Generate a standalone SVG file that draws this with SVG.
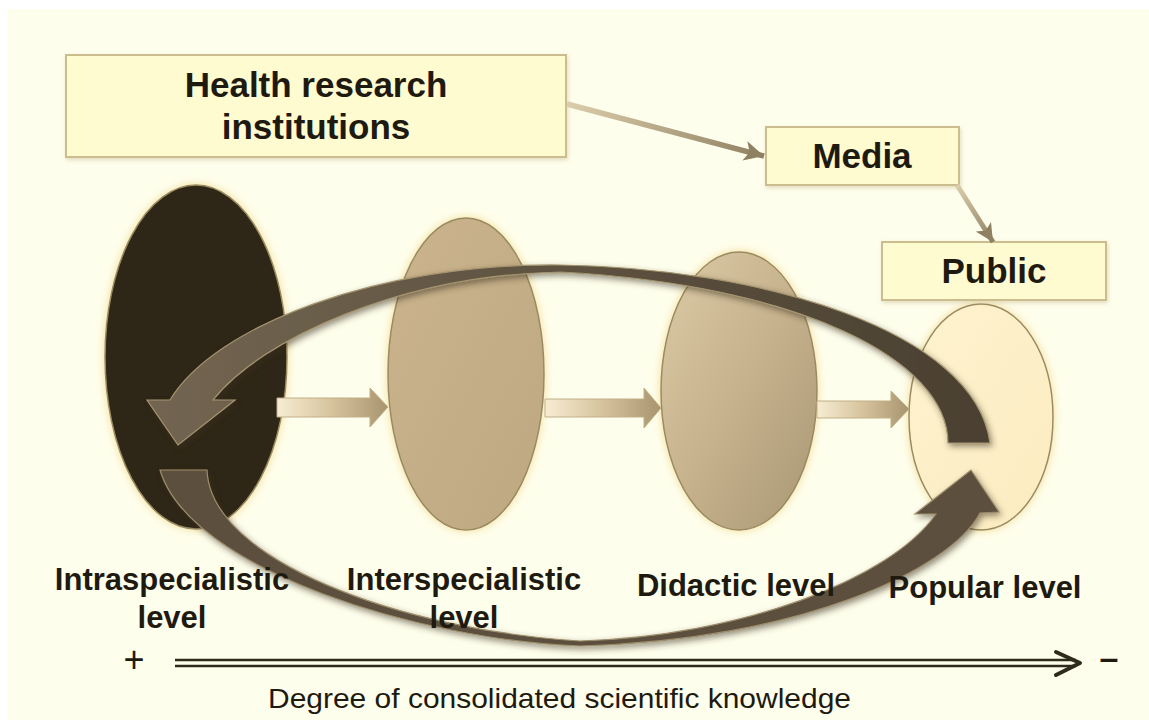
<svg xmlns="http://www.w3.org/2000/svg" width="1149" height="720" viewBox="0 0 1149 720">
  <style>
    .box { fill: #fefbd0; stroke: #cbbd8e; stroke-width: 2; }
    .lbl { font-family: "Liberation Sans", Arial, sans-serif; font-weight: bold; fill: #1f1a10; text-anchor: middle; }
    .axis { stroke: #2e2b1d; stroke-width: 2.5; fill: none; }
    .lvl { stroke: #9a8a62; stroke-width: 1.5; }
    .step { stroke: #c2ae86; stroke-width: 1; }
    .sign { font-family: "Liberation Sans", Arial, sans-serif; fill: #1f1a10; text-anchor: middle; }
  </style>
  <defs>
    <filter id="glow" x="-20%" y="-20%" width="140%" height="140%">
      <feGaussianBlur in="SourceAlpha" stdDeviation="4" result="b"/>
      <feFlood flood-color="#f1d98c" flood-opacity="0.9"/>
      <feComposite in2="b" operator="in" result="g"/>
      <feMerge><feMergeNode in="g"/><feMergeNode in="SourceGraphic"/></feMerge>
    </filter>
    <filter id="shadow" x="-10%" y="-10%" width="120%" height="130%">
      <feDropShadow dx="2" dy="3" stdDeviation="3" flood-color="#3b311f" flood-opacity="0.55"/>
    </filter>
    <filter id="boxShadow" x="-5%" y="-10%" width="110%" height="130%">
      <feDropShadow dx="1" dy="2" stdDeviation="2" flood-color="#b9a97a" flood-opacity="0.4"/>
    </filter>
    <linearGradient id="g2" x1="0" y1="0" x2="1" y2="1">
      <stop offset="0" stop-color="#cbb48d"/>
      <stop offset="1" stop-color="#bda882"/>
    </linearGradient>
    <linearGradient id="g3" x1="0" y1="0" x2="1" y2="1">
      <stop offset="0" stop-color="#dccaa6"/>
      <stop offset="0.5" stop-color="#c6b28d"/>
      <stop offset="1" stop-color="#a99673"/>
    </linearGradient>
    <linearGradient id="g4" x1="0" y1="0" x2="1" y2="1">
      <stop offset="0" stop-color="#fef3cf"/>
      <stop offset="1" stop-color="#fbebc0"/>
    </linearGradient>
    <linearGradient id="stepGrad" x1="0" y1="0" x2="1" y2="0">
      <stop offset="0" stop-color="#f7ecd2"/>
      <stop offset="0.5" stop-color="#d6c39d"/>
      <stop offset="1" stop-color="#a8956f"/>
    </linearGradient>
    <linearGradient id="upperGrad" x1="0" y1="0" x2="1" y2="0">
      <stop offset="0" stop-color="#726551"/>
      <stop offset="0.5" stop-color="#5e5240"/>
      <stop offset="1" stop-color="#4a4031"/>
    </linearGradient>
    <linearGradient id="c1" gradientUnits="userSpaceOnUse" x1="566" y1="103" x2="764" y2="156">
      <stop offset="0" stop-color="#dccdab"/>
      <stop offset="1" stop-color="#8e8061"/>
    </linearGradient>
    <linearGradient id="c2" gradientUnits="userSpaceOnUse" x1="957" y1="185" x2="993" y2="242">
      <stop offset="0" stop-color="#dccdab"/>
      <stop offset="1" stop-color="#8e8061"/>
    </linearGradient>
    <marker id="head" viewBox="0 0 10 10" refX="10" refY="5" markerWidth="3.6" markerHeight="3.6" orient="auto">
      <path d="M0,0 L10,5 L0,10 L2.5,5 Z" fill="#8e8061"/>
    </marker>
  </defs>

  <!-- page -->
  <rect x="0" y="0" width="1149" height="720" fill="#ffffff"/>
  <rect x="8" y="9" width="1141" height="711" fill="#fefeec"/>

  <!-- knowledge levels -->
  <g id="level-intraspecialistic">
    <ellipse class="lvl" cx="196" cy="357" rx="91" ry="172" fill="#2d2719" filter="url(#glow)"/>
  </g>
  <g id="level-interspecialistic">
    <ellipse class="lvl" cx="466" cy="374" rx="78" ry="156" fill="url(#g2)" filter="url(#glow)"/>
  </g>
  <g id="level-didactic">
    <ellipse class="lvl" cx="739" cy="391" rx="78" ry="139" fill="url(#g3)" filter="url(#glow)"/>
  </g>
  <g id="level-popular">
    <ellipse class="lvl" cx="981" cy="417" rx="72" ry="113" fill="url(#g4)" filter="url(#glow)"/>
  </g>

  <!-- actor boxes -->
  <g id="health-research-institutions">
    <rect class="box" x="66" y="55" width="500" height="102" filter="url(#boxShadow)"/>
    <text class="lbl" x="316" y="97" font-size="35">Health research</text>
    <text class="lbl" x="316" y="139" font-size="35">institutions</text>
  </g>
  <g id="media">
    <rect class="box" x="766" y="127" width="193" height="58" filter="url(#boxShadow)"/>
    <text class="lbl" x="862" y="168" font-size="35">Media</text>
  </g>
  <g id="public">
    <rect class="box" x="882" y="242" width="224" height="58" filter="url(#boxShadow)"/>
    <text class="lbl" x="994" y="283" font-size="35">Public</text>
  </g>

  <g id="connectors">
    <!-- actor flow -->
    <line x1="567" y1="104" x2="764" y2="156" stroke="url(#c1)" stroke-width="5.5" marker-end="url(#head)"/>
    <line x1="957" y1="185" x2="993" y2="242" stroke="url(#c2)" stroke-width="5" marker-end="url(#head)"/>

    <!-- steps between levels -->
    <path class="step" fill="url(#stepGrad)" d="M277,398 L370,398 L370,388 L388,407 L370,427 L370,417 L277,417 Z"/>
    <path class="step" fill="url(#stepGrad)" d="M545,399 L644,399 L644,388 L661,408 L644,428 L644,417 L545,417 Z"/>
    <path class="step" fill="url(#stepGrad)" d="M817,401 L891,401 L891,391 L909,409 L891,428 L891,418 L817,418 Z"/>

    <!-- feedback loop, popular back to intraspecialistic -->
    <path fill="url(#upperGrad)" stroke="#a4946f" stroke-width="1.2" filter="url(#shadow)"
          d="M990,443 C975,330 760,268 560,265 C380,263 215,325 170,400 L147,400 L178,445 L235,400 L213,400 C260,340 400,275 560,272 C800,285 948,360 948,443 Z"/>
    <!-- loop from intraspecialistic to popular -->
    <path fill="#5b503e" stroke="#9d8d6b" stroke-width="1.2" filter="url(#shadow)"
          d="M160,470 L207,470 C210,560 400,630 580,641 C740,636 890,580 936,514 L915,514 L971,470 L999,512 L980,513 C950,570 800,640 580,646 C420,640 190,570 160,470 Z"/>

    <!-- knowledge axis -->
    <line class="axis" x1="175" y1="660" x2="1076" y2="660"/>
    <line class="axis" x1="175" y1="666" x2="1076" y2="666"/>
    <polyline points="1056,652 1080,663 1056,675" fill="none" stroke="#2e2b1d" stroke-width="4" stroke-linejoin="round" stroke-linecap="round"/>
  </g>

  <!-- level labels -->
  <g id="labels">
    <text class="lbl" x="172" y="590" font-size="31">Intraspecialistic</text>
    <text class="lbl" x="172" y="628" font-size="31">level</text>
    <text class="lbl" x="464" y="590" font-size="31">Interspecialistic</text>
    <text class="lbl" x="464" y="628" font-size="31">level</text>
    <text class="lbl" x="736" y="596" font-size="31">Didactic level</text>
    <text class="lbl" x="985" y="598" font-size="31">Popular level</text>
    <text class="sign" x="134" y="672" font-size="36">+</text>
    <text class="sign" x="1109" y="669" font-size="34" font-weight="bold">–</text>
    <text x="268" y="708" font-family="Liberation Sans, Arial, sans-serif" font-size="28" fill="#1f1a10" textLength="583" lengthAdjust="spacingAndGlyphs">Degree of consolidated scientific knowledge</text>
  </g>
</svg>
